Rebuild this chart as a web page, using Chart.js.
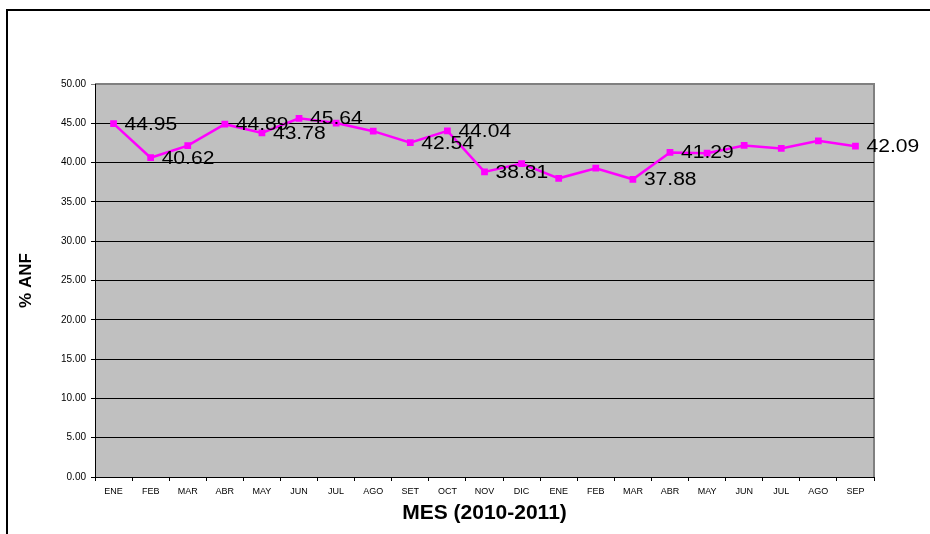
<!DOCTYPE html>
<html>
<head>
<meta charset="utf-8">
<script src="https://cdn.jsdelivr.net/npm/chart.js@4"></script>
<style>
  body { margin: 0; background: #fff; }
</style>
</head>
<body>
<canvas id="myChart" width="930" height="534"></canvas>
<script>
const months = ['ENE', 'FEB', 'MAR', 'ABR', 'MAY', 'JUN', 'JUL', 'AGO', 'SET', 'OCT', 'NOV',
    'DIC', 'ENE', 'FEB', 'MAR', 'ABR', 'MAY', 'JUN', 'JUL', 'AGO', 'SEP'];
const anf = [44.95, 40.62, 42.16, 44.89, 43.78, 45.64, 45.03, 44.00, 42.54, 44.04, 38.81,
    39.88, 38.00, 39.29, 37.88, 41.29, 41.20, 42.18, 41.80, 42.77, 42.09];
// points that carry a value label in the original
const labelled = [0, 1, 3, 4, 5, 8, 9, 10, 14, 15, 20];
const yTicks = [0, 5, 10, 15, 20, 25, 30, 35, 40, 45, 50];

// frame, grey plot area and its top/right border
const backdrop = {
    id: 'backdrop',
    beforeDraw(chart) {
        const c = chart.ctx;
        const a = chart.chartArea;
        c.save();
        c.strokeStyle = '#000';
        c.lineWidth = 2;
        c.beginPath();
        c.moveTo(7, 534);
        c.lineTo(7, 10);
        c.lineTo(930, 10);
        c.stroke();
        c.fillStyle = '#c0c0c0';
        c.fillRect(a.left, a.top, a.right - a.left, a.bottom - a.top);
        c.strokeStyle = '#808080';
        c.lineWidth = 2;
        c.beginPath();
        c.moveTo(a.left, a.top);
        c.lineTo(a.right, a.top);
        c.lineTo(a.right, a.bottom);
        c.stroke();
        c.restore();
    }
};

// value labels to the right of some points
const valueLabels = {
    id: 'valueLabels',
    afterDatasetsDraw(chart) {
        const c = chart.ctx;
        const pts = chart.getDatasetMeta(0).data;
        c.save();
        c.fillStyle = '#000';
        c.font = '18px Arial, "Liberation Sans", sans-serif';
        c.textBaseline = 'middle';
        c.textAlign = 'left';
        labelled.forEach(i => {
            const p = pts[i];
            c.save();
            c.translate(p.x + 11, p.y + 1);
            c.scale(1.17, 1);
            c.fillText(anf[i].toFixed(2), 0, 0);
            c.restore();
        });
        c.restore();
    }
};

new Chart(document.getElementById('myChart'), {
    type: 'line',
    data: {
        labels: months,
        datasets: [{
            label: '% ANF',
            data: anf,
            borderColor: '#ff00ff',
            backgroundColor: '#ff00ff',
            borderWidth: 2.5,
            pointStyle: 'rect',
            pointRadius: 3,
            pointHoverRadius: 3,
            tension: 0
        }]
    },
    options: {
        responsive: false,
        animation: false,
        layout: { padding: { left: 0, top: 84, right: 56, bottom: 0 } },
        plugins: {
            legend: { display: false },
            tooltip: { enabled: false }
        },
        scales: {
            x: {
                offset: true,
                afterFit(scale) { scale.height = 57; },
                grid: {
                    drawOnChartArea: false,
                    drawTicks: true,
                    tickLength: 4,
                    offset: true,
                    color: '#000'
                },
                border: { color: '#000', width: 1 },
                ticks: {
                    autoSkip: false,
                    maxRotation: 0,
                    padding: 5,
                    color: '#000',
                    font: { family: 'Arial, "Liberation Sans", sans-serif', size: 9 }
                },
                title: {
                    display: true,
                    text: 'MES (2010-2011)',
                    color: '#000',
                    padding: { top: 0, bottom: 8 },
                    font: { family: 'Arial, "Liberation Sans", sans-serif', size: 21, weight: 'bold' }
                }
            },
            y: {
                min: 0,
                max: 50,
                afterFit(scale) { scale.width = 95; },
                afterBuildTicks(scale) { scale.ticks = yTicks.map(v => ({ value: v })); },
                grid: {
                    tickLength: 4,
                    color: ctx => ctx.tick && ctx.tick.value === 50 ? '#808080' : '#000'
                },
                border: { color: '#000', width: 1 },
                ticks: {
                    padding: 5,
                    color: '#000',
                    callback: v => v.toFixed(2),
                    font: { family: 'Arial, "Liberation Sans", sans-serif', size: 10 }
                },
                title: {
                    display: true,
                    text: '% ANF',
                    color: '#000',
                    padding: { top: 16, bottom: 0 },
                    font: { family: 'Arial, "Liberation Sans", sans-serif', size: 17, weight: 'bold' }
                }
            }
        }
    },
    plugins: [backdrop, valueLabels]
});
</script>
</body>
</html>
